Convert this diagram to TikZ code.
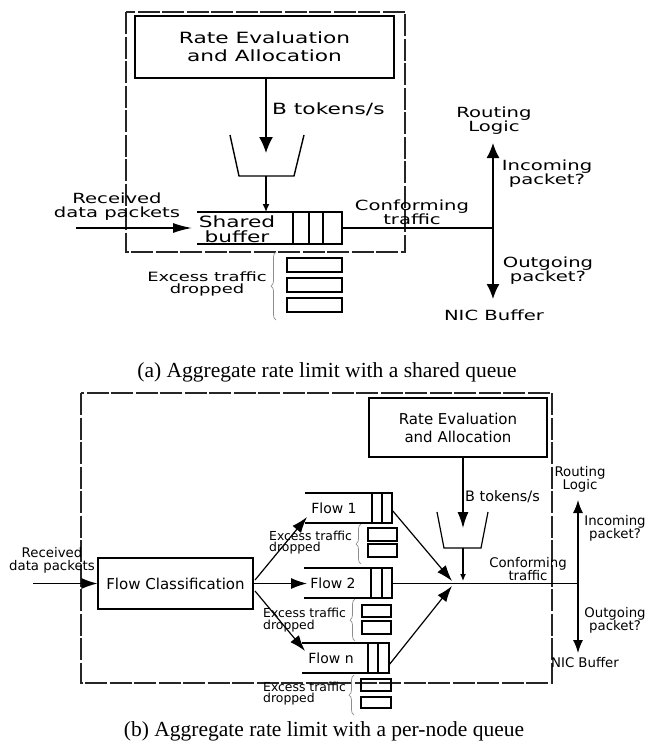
\documentclass[tikz,border=0pt]{standalone}
\usepackage{fontspec}
\setmainfont{DejaVu Sans}
\newfontfamily\capfont{Liberation Serif}
\usetikzlibrary{arrows.meta,decorations.pathreplacing}
\newcommand\sx[1]{\scalebox{1.4}[1]{#1}}
\begin{document}
\begin{tikzpicture}[x=1pt,y=-1pt,
  lnA/.style={line width=1.4pt},
  lnB/.style={line width=1.2pt},
  dbox/.style={line width=1.2pt, dash pattern=on 22pt off 2.5pt, black!85},
  txt/.style={inner sep=0pt, align=center},
  fa/.style={font=\fontsize{15.5}{18}\selectfont},
  fab/.style={font=\fontsize{15.5}{15}\selectfont},
  fas/.style={font=\fontsize{14}{14}\selectfont},
  fae/.style={font=\fontsize{12.8}{12.5}\selectfont},
  fb/.style={font=\fontsize{15}{18}\selectfont},
  fbf/.style={font=\fontsize{14}{14}\selectfont},
  fbs/.style={font=\fontsize{13.3}{13}\selectfont},
  fbe/.style={font=\fontsize{12.4}{11.5}\selectfont},
  fcap/.style={font=\capfont\fontsize{21.5}{24}\selectfont},
  bigA/.style={lnA, -{Latex[length=16pt,width=14pt]}},
  smallA/.style={lnA, -{Latex[length=8pt,width=7pt]}},
  recvA/.style={lnA, -{Latex[length=19pt,width=10pt]}},
  dblA/.style={lnA, {Latex[length=15pt,width=13pt]}-{Latex[length=15pt,width=13pt]}},
  bigB/.style={lnB, -{Latex[length=16pt,width=11pt]}},
  smallB/.style={lnB, -{Latex[length=7pt,width=6pt]}},
  dblB/.style={lnB, {Latex[length=13pt,width=10pt]}-{Latex[length=13pt,width=10pt]}},
  bracestyle/.style={black!45, line width=0.7pt, decorate, decoration={brace, amplitude=5pt}},
]
\useasboundingbox (0,0) rectangle (647,742);

%% ================= Panel (a) =================
\draw[dbox] (126,12) rectangle (405,252);
\node[draw, lnA, minimum width=259pt, minimum height=62pt, txt, fa] (rateA) at (264.5,47)
  {\sx{Rate Evaluation}\\\sx{and Allocation}};
\coordinate (tokA) at (266,153);
\draw[bigA] (rateA.south -| tokA) -- (tokA);
\node[txt, fa, anchor=west] (btokA) at (272,109) {\sx{B tokens/s}};
% bucket
\draw[lnA] (230,135) -- (239,176) -- (294,176) -- (304,135);
\coordinate (bucketA) at (266,176);
\coordinate (bufTopA) at (266,212);
\draw[smallA] (bucketA) -- (bufTopA);
% shared buffer
\draw[lnA] (197,212) -- (342,212) -- (342,244) -- (197,244);
\draw[lnA] (293,212) -- (293,244) (309,212) -- (309,244) (323,212) -- (323,244);
\node[txt, fab] (sharedA) at (237,229) {\sx{Shared}\\\sx{buffer}};
% received
\coordinate (recA) at (76,228);
\coordinate (bufA) at (192,228);
\draw[recvA] (recA) -- (bufA);
\node[txt, fas] (recvtA) at (117,206.5) {\sx{Received}\\\sx{data packets}};
% conforming
\coordinate (bufAr) at (342,228);
\coordinate (jA) at (493,228);
\draw[lnA] (bufAr) -- (jA);
\node[txt, fas] (confA) at (412,212) {\sx{Conforming}\\\sx{traffic}};
\coordinate (rlA) at (493,143);
\coordinate (nicA) at (493,299);
\draw[dblA] (rlA) -- (nicA);
\node[txt, fas] (routA) at (494,121) {\sx{Routing}\\\sx{Logic}};
\node[txt, fas] (incA) at (547,173.5) {\sx{Incoming}\\\sx{packet?}};
\node[txt, fas] (outA) at (548,270.5) {\sx{Outgoing}\\\sx{packet?}};
\node[txt, fas] (nicTA) at (494,315) {\sx{NIC Buffer}};
% excess
\draw[lnA] (287,258) rectangle (342,272);
\draw[lnA] (287,278) rectangle (342,292);
\draw[lnA] (287,298) rectangle (342,312);
\draw[bracestyle] (276,320) -- (276,252);
\node[txt, fae] (exA) at (207,284) {\sx{Excess traffic}\\\sx{dropped}};

\node[fcap, inner sep=0pt, anchor=base] (capA) at (327,377) {(a) Aggregate rate limit with a shared queue};

%% ================= Panel (b) =================
\draw[dbox] (81,393) rectangle (552,683);
\node[draw, lnB, minimum width=178pt, minimum height=59pt, txt, fb] (rateB) at (458,427.5)
  {Rate Evaluation\\and Allocation};
\coordinate (tokB) at (463,528);
\draw[bigB] (rateB.south -| tokB) -- (tokB);
\node[txt, font=\fontsize{14.4}{14}\selectfont, anchor=west] (btokB) at (465,497) {B tokens/s};
\draw[lnB] (437,512) -- (444,548) -- (481,548) -- (488,512);
\coordinate (bucketB) at (463,548);
\coordinate (lineB) at (463,581);
\draw[smallB] (bucketB) -- (lineB);

% flow classification
\node[draw, lnB, minimum width=155pt, minimum height=51pt, txt, fb] (fc) at (175.5,583.5) {Flow Classification};
\coordinate (recB) at (33,583.5);
\draw[bigB] (recB) -- (fc.west);
\node[txt, fbs] (recvtB) at (52,560.5) {Received\\data packets};

% flows
\draw[lnB] (305,493) -- (392,493) -- (392,523) -- (305,523);
\draw[lnB] (372,493) -- (372,523) (382,493) -- (382,523);
\node[txt, fbf] (flow1) at (334,508) {Flow 1};
\draw[lnB] (304,568) -- (392,568) -- (392,598) -- (304,598);
\draw[lnB] (371,568) -- (371,598) (382,568) -- (382,598);
\node[txt, fbf] (flow2) at (333,583) {Flow 2};
\draw[lnB] (302,643) -- (389,643) -- (389,673) -- (302,673);
\draw[lnB] (368,643) -- (368,673) (378,643) -- (378,673);
\node[txt, fbf] (flown) at (331,658) {Flow n};

\coordinate (fcA) at (255,580);
\coordinate (fcB) at (255,591);
\coordinate (f1in) at (307,517);
\coordinate (f2in) at (307,583.5);
\coordinate (fnin) at (305,651);
\draw[bigB] (fcA) -- (f1in);
\draw[bigB] (fc.east) -- (f2in);
\draw[bigB] (fcB) -- (fnin);

\coordinate (f1out) at (392,510);
\coordinate (fnout) at (389,665);
\coordinate (convA) at (452,581);
\coordinate (convB) at (452,586);
\draw[bigB] (f1out) -- (convA);
\draw[bigB] (fnout) -- (convB);

\coordinate (f2out) at (392,583.5);
\coordinate (jB) at (578,583.5);
\draw[lnB] (f2out) -- (jB);
\node[txt, fbs] (confB) at (528,569) {Conforming\\traffic};
\coordinate (rlB) at (578,500);
\coordinate (nicB) at (578,653);
\draw[dblB] (rlB) -- (nicB);
\node[txt, fbs] (routB) at (580,479.5) {Routing\\Logic};
\node[txt, fbs] (incB) at (615,528.5) {Incoming\\packet?};
\node[txt, fbs] (outB) at (615,620) {Outgoing\\packet?};
\node[txt, fbs] (nicTB) at (585,663) {NIC Buffer};

% excess b
\draw[lnB] (368,528) rectangle (397,541);
\draw[lnB] (368,544) rectangle (397,557);
\draw[bracestyle] (361,564) -- (361,524);
\node[inner sep=0pt, align=left, anchor=west, fbe] (ex1) at (269,542.5) {Excess traffic\\dropped};
\draw[lnB] (362,605) rectangle (391,617);
\draw[lnB] (362,621) rectangle (391,634);
\draw[bracestyle] (355,641) -- (355,599);
\node[inner sep=0pt, align=left, anchor=west, fbe] (ex2) at (263,620) {Excess traffic\\dropped};
\draw[lnB] (361,679) rectangle (391,691);
\draw[lnB] (361,697) rectangle (391,708);
\draw[bracestyle] (354,715) -- (354,675);
\node[inner sep=0pt, align=left, anchor=west, fbe] (ex3) at (263,693.5) {Excess traffic\\dropped};

\node[fcap, inner sep=0pt, anchor=base] (capB) at (324,736) {(b) Aggregate rate limit with a per-node queue};
\end{tikzpicture}
\end{document}
